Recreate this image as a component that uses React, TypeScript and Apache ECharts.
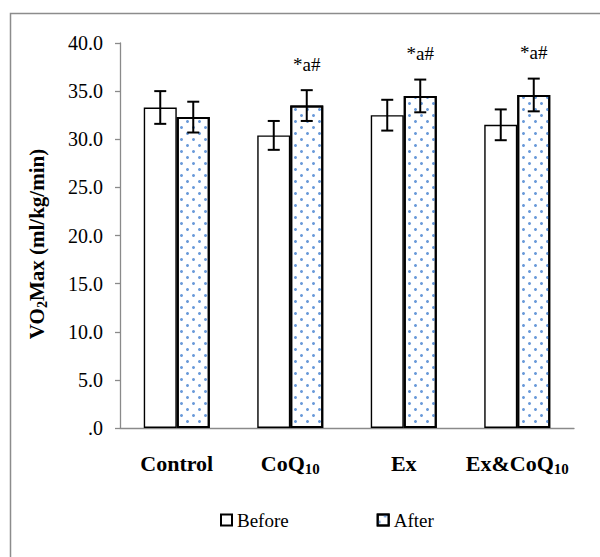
import React, { useEffect, useRef } from "react";
import * as echarts from "echarts";

const categories = ["Control", "CoQ10", "Ex", "Ex&CoQ10"];
const beforeMean = [33.3, 30.4, 32.5, 31.5];
const beforeSD = [1.7, 1.5, 1.6, 1.6];
const afterMean = [32.3, 33.5, 34.5, 34.6];
const afterSD = [1.6, 1.6, 1.7, 1.7];
const significance = ["", "*a#", "*a#", "*a#"];
const yTickLabels = [".0", "5.0", "10.0", "15.0", "20.0", "25.0", "30.0", "35.0", "40.0"];
const seriesNames = ["Before", "After"];

const FONT = "Liberation Serif";
const BAR_W = 33;

function formatCategory(c: string) {
  const m = c.match(/^(.*?)(10)$/);
  if (m) return `{b|${m[1]}}{s|${m[2]}}`;
  return `{b|${c}}`;
}

export default function App() {
  const ref = useRef<HTMLDivElement>(null);
  useEffect(() => {
    if (!ref.current) return;
    const chart = echarts.init(ref.current, null, { renderer: "svg" });

    const errorSeries = (means: number[], sds: number[], sign: number, labels: string[] | null) => ({
      type: "custom",
      silent: true,
      z: 10,
      data: means.map((m, i) => [i, m, sds[i]]),
      renderItem: (params: any, api: any) => {
        const i = api.value(0);
        const m = api.value(1);
        const sd = api.value(2);
        const top = api.coord([i, m + sd]);
        const bot = api.coord([i, m - sd]);
        const x = top[0] + (sign * BAR_W) / 2;
        const cap = 6;
        const st = { stroke: "#000", lineWidth: 2 };
        const children: any[] = [
          { type: "line", shape: { x1: x, y1: top[1], x2: x, y2: bot[1] }, style: st },
          { type: "line", shape: { x1: x - cap, y1: top[1], x2: x + cap, y2: top[1] }, style: st },
          { type: "line", shape: { x1: x - cap, y1: bot[1], x2: x + cap, y2: bot[1] }, style: st },
        ];
        if (labels && labels[params.dataIndex]) {
          children.push({
            type: "text",
            style: {
              text: labels[params.dataIndex],
              x,
              y: top[1] - 26,
              align: "center",
              verticalAlign: "middle",
              fontFamily: FONT,
              fontSize: 19,
              fill: "#000",
            },
          });
        }
        return { type: "group", children };
      },
    });

    chart.setOption({
      animation: false,
      backgroundColor: "#fff",
      textStyle: { fontFamily: FONT, color: "#000" },
      grid: { left: 120, right: 26, top: 43, bottom: 129, containLabel: false },
      legend: {
        data: seriesNames,
        icon: "rect",
        left: 220,
        top: 509,
        padding: 0,
        itemWidth: 11,
        itemHeight: 11,
        itemGap: 88,
        textStyle: { fontFamily: FONT, fontSize: 19, color: "#000", lineHeight: 22 },
      },
      xAxis: {
        type: "category",
        data: categories,
        axisLine: { lineStyle: { color: "#8a8a8a", width: 1.3 } },
        axisTick: { show: false },
        axisLabel: {
          interval: 0,
          margin: 22,
          formatter: (v: string) => formatCategory(v),
          rich: {
            b: { fontFamily: FONT, fontSize: 22, fontWeight: "bold", color: "#000", lineHeight: 26 },
            s: { fontFamily: FONT, fontSize: 15, fontWeight: "bold", color: "#000", lineHeight: 15, verticalAlign: "bottom" },
          },
        },
      },
      yAxis: {
        type: "value",
        min: 0,
        max: 40,
        interval: 5,
        axisLine: { show: true, lineStyle: { color: "#8a8a8a", width: 1.3 } },
        axisTick: { show: true, length: 5, lineStyle: { color: "#8a8a8a", width: 1.3 } },
        splitLine: { show: false },
        axisLabel: {
          margin: 17,
          fontFamily: FONT,
          fontSize: 20,
          color: "#000",
          formatter: (_v: number, idx: number) => yTickLabels[idx],
        },
      },
      graphic: [
        {
          type: "rect",
          shape: { x: 10.5, y: 13.5, width: 620, height: 580 },
          style: { fill: "none", stroke: "#8c8c8c", lineWidth: 1.5 },
          silent: true,
        },
        {
          type: "text",
          x: 37,
          y: 244,
          rotation: Math.PI / 2,
          style: {
            text: "{b|VO}{s|2}{b|Max (ml/kg/min)}",
            align: "center",
            verticalAlign: "middle",
            rich: {
              b: { fontFamily: FONT, fontSize: 21, fontWeight: "bold", fill: "#000", lineHeight: 24 } as any,
              s: { fontFamily: FONT, fontSize: 14, fontWeight: "bold", fill: "#000", lineHeight: 14, verticalAlign: "bottom" } as any,
            },
          },
        },
      ],
      series: [
        {
          name: seriesNames[0],
          type: "bar",
          data: beforeMean,
          barWidth: BAR_W,
          barGap: "0%",
          itemStyle: { color: "#ffffff", borderColor: "#000", borderWidth: 1.4 },
        },
        {
          name: seriesNames[1],
          type: "bar",
          data: afterMean,
          barWidth: BAR_W,
          barGap: "0%",
          itemStyle: {
            color: "#ffffff",
            borderColor: "#000",
            borderWidth: 2,
            decal: {
              symbol: "circle",
              symbolSize: 1,
              color: "#6a9ad9",
              dashArrayX: [[2.2, 8.2], [0, 5.2, 2.2, 3]],
              dashArrayY: [2.2, 3],
              rotation: 0,
            },
          },
        },
        errorSeries(beforeMean, beforeSD, -1, null),
        errorSeries(afterMean, afterSD, 1, significance),
      ],
    });
    return () => chart.dispose();
  }, []);

  return (
    <div
      ref={ref}
      style={{ position: "fixed", left: 0, top: 0, width: 600, height: 557, background: "#fff" }}
    />
  );
}
